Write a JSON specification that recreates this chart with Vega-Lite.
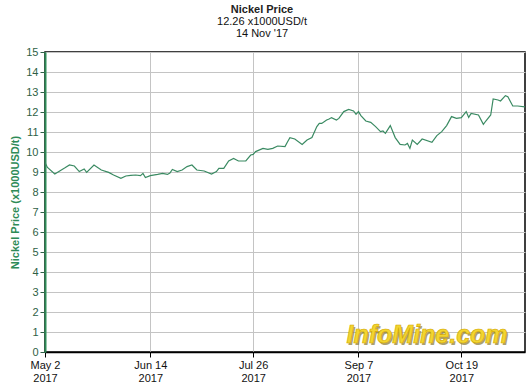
{
  "$schema": "https://vega.github.io/schema/vega-lite/v6.json",
  "autosize": {"type": "none"},
  "width": 480,
  "height": 300,
  "padding": {"left": 45, "top": 52, "right": 5, "bottom": 38},
  "background": "white",
  "view": {"stroke": "black", "strokeWidth": 1.5},
  "config": {"font": "Liberation Sans"},
  "title": {
    "text": "Nickel Price",
    "subtitle": ["12.26 x1000USD/t", "14 Nov '17"],
    "anchor": "middle",
    "frame": "group",
    "dx": -23,
    "offset": 7,
    "font": "Liberation Sans",
    "fontSize": 11,
    "fontWeight": "bold",
    "color": "#222222",
    "subtitleFont": "Liberation Sans",
    "subtitleFontSize": 11,
    "subtitleColor": "#111111",
    "subtitlePadding": 1,
    "subtitleLineHeight": 12
  },
  "data": {"values": [
    {"date": "2017-05-02", "price": 9.47},
    {"date": "2017-05-03", "price": 9.23},
    {"date": "2017-05-06", "price": 8.9},
    {"date": "2017-05-09", "price": 9.13},
    {"date": "2017-05-10", "price": 9.2},
    {"date": "2017-05-12", "price": 9.35},
    {"date": "2017-05-14", "price": 9.3},
    {"date": "2017-05-16", "price": 9.02},
    {"date": "2017-05-18", "price": 9.15},
    {"date": "2017-05-19", "price": 8.98},
    {"date": "2017-05-22", "price": 9.35},
    {"date": "2017-05-25", "price": 9.1},
    {"date": "2017-05-28", "price": 8.98},
    {"date": "2017-05-30", "price": 8.85},
    {"date": "2017-06-02", "price": 8.68},
    {"date": "2017-06-04", "price": 8.8},
    {"date": "2017-06-06", "price": 8.83},
    {"date": "2017-06-08", "price": 8.85},
    {"date": "2017-06-10", "price": 8.82},
    {"date": "2017-06-11", "price": 8.93},
    {"date": "2017-06-12", "price": 8.72},
    {"date": "2017-06-14", "price": 8.82},
    {"date": "2017-06-17", "price": 8.88},
    {"date": "2017-06-19", "price": 8.93},
    {"date": "2017-06-21", "price": 8.88},
    {"date": "2017-06-22", "price": 8.95},
    {"date": "2017-06-23", "price": 9.13},
    {"date": "2017-06-25", "price": 9.02},
    {"date": "2017-06-27", "price": 9.1},
    {"date": "2017-06-29", "price": 9.27},
    {"date": "2017-07-01", "price": 9.35},
    {"date": "2017-07-03", "price": 9.1},
    {"date": "2017-07-06", "price": 9.05},
    {"date": "2017-07-09", "price": 8.9},
    {"date": "2017-07-11", "price": 9.02},
    {"date": "2017-07-12", "price": 9.18},
    {"date": "2017-07-14", "price": 9.18},
    {"date": "2017-07-16", "price": 9.55},
    {"date": "2017-07-18", "price": 9.68},
    {"date": "2017-07-20", "price": 9.55},
    {"date": "2017-07-23", "price": 9.55},
    {"date": "2017-07-25", "price": 9.85},
    {"date": "2017-07-26", "price": 9.88},
    {"date": "2017-07-27", "price": 10.02},
    {"date": "2017-07-30", "price": 10.18},
    {"date": "2017-08-01", "price": 10.13},
    {"date": "2017-08-03", "price": 10.18},
    {"date": "2017-08-05", "price": 10.3},
    {"date": "2017-08-08", "price": 10.27},
    {"date": "2017-08-09", "price": 10.5},
    {"date": "2017-08-10", "price": 10.72},
    {"date": "2017-08-12", "price": 10.65},
    {"date": "2017-08-15", "price": 10.38},
    {"date": "2017-08-17", "price": 10.6},
    {"date": "2017-08-19", "price": 10.72},
    {"date": "2017-08-21", "price": 11.27},
    {"date": "2017-08-22", "price": 11.43},
    {"date": "2017-08-23", "price": 11.43},
    {"date": "2017-08-25", "price": 11.6},
    {"date": "2017-08-26", "price": 11.65},
    {"date": "2017-08-27", "price": 11.72},
    {"date": "2017-08-29", "price": 11.6},
    {"date": "2017-08-30", "price": 11.68},
    {"date": "2017-09-01", "price": 12.02},
    {"date": "2017-09-03", "price": 12.13},
    {"date": "2017-09-05", "price": 12.05},
    {"date": "2017-09-06", "price": 11.88},
    {"date": "2017-09-07", "price": 12.02},
    {"date": "2017-09-08", "price": 11.82},
    {"date": "2017-09-10", "price": 11.55},
    {"date": "2017-09-12", "price": 11.48},
    {"date": "2017-09-14", "price": 11.27},
    {"date": "2017-09-16", "price": 11.02},
    {"date": "2017-09-17", "price": 11.05},
    {"date": "2017-09-18", "price": 10.93},
    {"date": "2017-09-20", "price": 11.32},
    {"date": "2017-09-22", "price": 10.72},
    {"date": "2017-09-24", "price": 10.38},
    {"date": "2017-09-26", "price": 10.35},
    {"date": "2017-09-27", "price": 10.43},
    {"date": "2017-09-28", "price": 10.18},
    {"date": "2017-09-29", "price": 10.6},
    {"date": "2017-10-01", "price": 10.38},
    {"date": "2017-10-03", "price": 10.65},
    {"date": "2017-10-07", "price": 10.48},
    {"date": "2017-10-09", "price": 10.82},
    {"date": "2017-10-11", "price": 11.02},
    {"date": "2017-10-13", "price": 11.32},
    {"date": "2017-10-15", "price": 11.77},
    {"date": "2017-10-17", "price": 11.68},
    {"date": "2017-10-19", "price": 11.72},
    {"date": "2017-10-21", "price": 12.02},
    {"date": "2017-10-22", "price": 11.73},
    {"date": "2017-10-23", "price": 11.93},
    {"date": "2017-10-26", "price": 11.85},
    {"date": "2017-10-28", "price": 11.38},
    {"date": "2017-10-29", "price": 11.55},
    {"date": "2017-10-31", "price": 11.85},
    {"date": "2017-11-01", "price": 12.65},
    {"date": "2017-11-03", "price": 12.6},
    {"date": "2017-11-04", "price": 12.55},
    {"date": "2017-11-06", "price": 12.82},
    {"date": "2017-11-07", "price": 12.77},
    {"date": "2017-11-09", "price": 12.3},
    {"date": "2017-11-11", "price": 12.3},
    {"date": "2017-11-14", "price": 12.26}
  ]},
  "encoding": {
    "x": {
      "field": "date",
      "type": "temporal",
      "scale": {
        "type": "utc",
        "domain": [
          {"year": 2017, "month": 5, "date": 2, "utc": true},
          {"year": 2017, "month": 11, "date": 14, "utc": true}
        ]
      },
      "axis": {
        "title": null,
        "values": [
          {"year": 2017, "month": 5, "date": 2, "utc": true},
          {"year": 2017, "month": 6, "date": 14, "utc": true},
          {"year": 2017, "month": 7, "date": 26, "utc": true},
          {"year": 2017, "month": 9, "date": 7, "utc": true},
          {"year": 2017, "month": 10, "date": 19, "utc": true}
        ],
        "labelExpr": "[utcFormat(datum.value, '%b %-d'), utcFormat(datum.value, '%Y')]",
        "labelFont": "Liberation Sans",
        "labelFontSize": 11,
        "labelColor": "#111111",
        "labelLineHeight": 13,
        "labelPadding": 2,
        "labelFlush": false,
        "labelOverlap": false,
        "domainColor": "black",
        "domainWidth": 1.5,
        "tickColor": "black",
        "tickSize": 5,
        "grid": true,
        "gridColor": "#c4c4c4",
        "gridWidth": 1
      }
    },
    "y": {
      "field": "price",
      "type": "quantitative",
      "scale": {"domain": [0, 15], "nice": false, "zero": true},
      "axis": {
        "title": "Nickel Price (x1000USD/t)",
        "titleFont": "Liberation Sans",
        "titleFontSize": 11,
        "titleFontWeight": "bold",
        "titleColor": "#2e8b57",
        "titlePadding": 5,
        "values": [0, 1, 2, 3, 4, 5, 6, 7, 8, 9, 10, 11, 12, 13, 14, 15],
        "labelFont": "Liberation Sans",
        "labelFontSize": 11,
        "labelColor": "#2f5f46",
        "labelPadding": 2,
        "labelFlush": false,
        "domainColor": "#2e8b57",
        "domainWidth": 2,
        "tickColor": "#2f5f46",
        "tickSize": 5,
        "grid": true,
        "gridColor": "#c4c4c4",
        "gridWidth": 1
      }
    }
  },
  "layer": [
    {
      "mark": {"type": "line", "color": "#3a8a62", "strokeWidth": 1.2, "clip": true}
    },
    {
      "data": {"values": [{"date": "2017-10-05", "price": 0.85, "label": "InfoMine.com"}]},
      "mark": {"type": "text", "font": "Liberation Sans", "fontSize": 25, "fontWeight": "bold", "fontStyle": "italic", "color": "#8a7a30", "dx": 1.5, "dy": 1.5, "opacity": 0.7},
      "encoding": {"text": {"field": "label"}}
    },
    {
      "data": {"values": [{"date": "2017-10-05", "price": 0.85, "label": "InfoMine.com"}]},
      "mark": {"type": "text", "font": "Liberation Sans", "fontSize": 25, "fontWeight": "bold", "fontStyle": "italic", "color": "#f2d530", "stroke": "#d4a800", "strokeWidth": 0.6},
      "encoding": {"text": {"field": "label"}}
    }
  ]
}
